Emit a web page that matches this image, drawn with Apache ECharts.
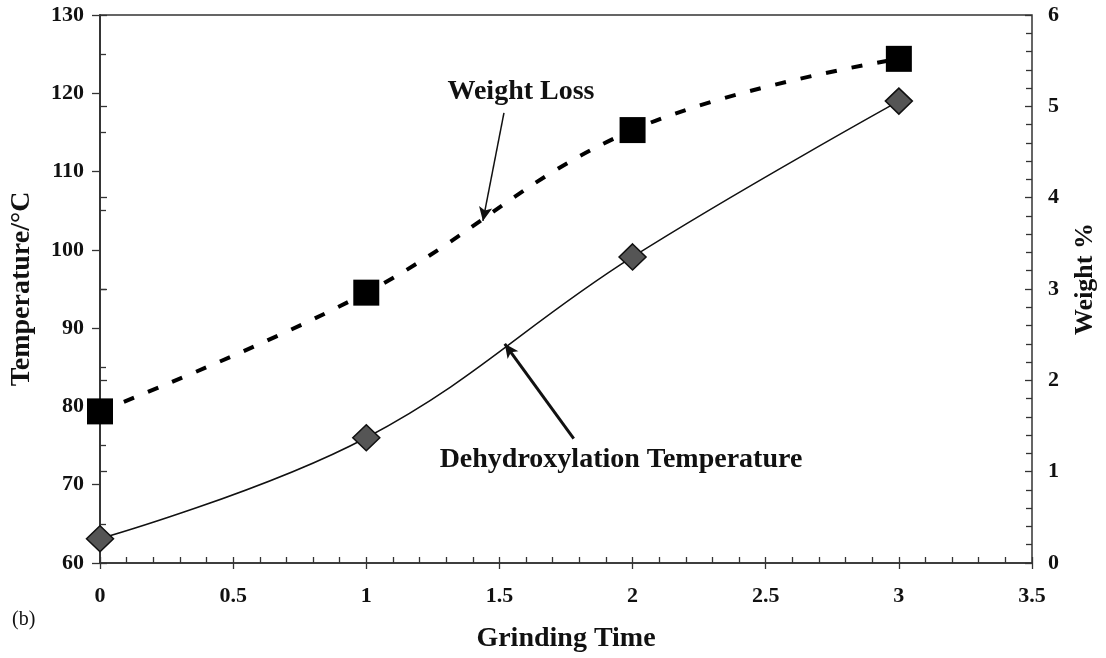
<!DOCTYPE html>
<html>
<head>
<meta charset="utf-8">
<script src="https://cdn.jsdelivr.net/npm/echarts@6/dist/echarts.min.js"></script>
<style>
  html, body { margin: 0; padding: 0; background: #fff; }
  #chart { width: 1106px; height: 658px; }
</style>
</head>
<body>
<div id="chart"></div>
<script>
// grinding time (x)
const grindTime = [0, 1, 2, 3];
const dehydroxTemp = [63.1, 76.0, 99.1, 119.0];   // left axis, °C
const weightLoss = [1.66, 2.96, 4.74, 5.52];      // right axis, weight %

// annotation arrows in data units (x, temperature)
const weightArrow = [[1.517, 117.5], [1.438, 103.7]];
const tempArrow = [[1.779, 75.9], [1.52, 88.0]];

const font = 'Liberation Serif';
const axisColor = '#333';

const mychart = echarts.init(document.getElementById('chart'));

const labelStyle = { fontFamily: font, fontWeight: 'bold', fontSize: 22, color: '#111' };
function nameStyle(size) {
    return { fontFamily: font, fontWeight: 'bold', fontSize: size, color: '#111' };
}

// the extra axes only draw the inward minor/major ticks
function innerX() {
    return {
        type: 'value', min: 0, max: 3.5, interval: 0.5, position: 'bottom',
        axisLine: { show: false }, axisLabel: { show: false }, splitLine: { show: false },
        axisTick: { show: true, inside: true, length: 6, lineStyle: { color: axisColor, width: 1.3 } },
        minorTick: { show: true, splitNumber: 5, length: 6, lineStyle: { color: axisColor, width: 1.3 } }
    };
}
function innerY(pos, min, max, interval, split) {
    return {
        type: 'value', min: min, max: max, interval: interval, position: pos,
        axisLine: { show: false }, axisLabel: { show: false }, splitLine: { show: false },
        axisTick: { show: pos === 'right', inside: true, length: 7, lineStyle: { color: axisColor, width: 1.3 } },
        minorTick: { show: true, splitNumber: split, length: 6, lineStyle: { color: axisColor, width: 1.3 } }
    };
}

const option = {
    animation: false,
    grid: {
        left: 98, right: 74, top: 15, bottom: 93,
        show: true, borderColor: axisColor, borderWidth: 1.5, backgroundColor: 'transparent'
    },
    xAxis: [{
        type: 'value', min: 0, max: 3.5, interval: 0.5,
        name: 'Grinding Time', nameLocation: 'middle', nameGap: 62, nameTextStyle: nameStyle(28),
        axisLine: { show: true, lineStyle: { color: axisColor, width: 1.5 } },
        axisTick: { show: true, length: 6, lineStyle: { color: axisColor, width: 1.3 } },
        axisLabel: Object.assign({ margin: 22 }, labelStyle),
        splitLine: { show: false }
    }, innerX()],
    yAxis: [{
        type: 'value', min: 60, max: 130, interval: 10, position: 'left',
        name: 'Temperature/°C', nameLocation: 'middle', nameGap: 64, nameRotate: 90, nameTextStyle: nameStyle(28),
        axisLine: { show: true, lineStyle: { color: axisColor, width: 1.5 } },
        axisTick: { show: true, length: 8, lineStyle: { color: axisColor, width: 1.3 } },
        axisLabel: Object.assign({ margin: 16 }, labelStyle),
        splitLine: { show: false }
    }, {
        type: 'value', min: 0, max: 6, interval: 1, position: 'right',
        name: 'Weight %', nameLocation: 'middle', nameGap: 40, nameRotate: 90,
        nameTextStyle: Object.assign({ padding: [0, 0, 0, 20] }, nameStyle(26)),
        axisLine: { show: true, lineStyle: { color: axisColor, width: 1.5 } },
        axisTick: { show: true, length: 7, lineStyle: { color: axisColor, width: 1.3 } },
        axisLabel: Object.assign({ margin: 16 }, labelStyle),
        splitLine: { show: false }
    }, innerY('left', 60, 130, 10, 2), innerY('right', 0, 6, 1, 5)],
    series: [{
        name: 'Dehydroxylation Temperature',
        type: 'line',
        xAxisIndex: 0, yAxisIndex: 0,
        smooth: 0.4,
        data: grindTime.map((t, i) => [t, dehydroxTemp[i]]),
        symbol: 'diamond',
        symbolSize: [27, 26],
        itemStyle: { color: '#555', borderColor: '#111', borderWidth: 1.5 },
        lineStyle: { color: '#111', width: 1.5 },
        z: 3,
        markLine: {
            silent: true,
            symbol: ['none', 'arrow'],
            symbolSize: [10, 14],
            label: { show: false },
            emphasis: { disabled: true },
            data: [
                [{ coord: weightArrow[0], lineStyle: { color: '#111', width: 1.5, type: 'solid' } },
                 { coord: weightArrow[1] }],
                [{ coord: tempArrow[0], lineStyle: { color: '#111', width: 3, type: 'solid' } },
                 { coord: tempArrow[1] }]
            ]
        }
    }, {
        name: 'Weight Loss',
        type: 'line',
        xAxisIndex: 0, yAxisIndex: 1,
        smooth: 0.4,
        data: grindTime.map((t, i) => [t, weightLoss[i]]),
        symbol: 'rect',
        symbolSize: 26,
        itemStyle: { color: '#000' },
        lineStyle: { color: '#000', width: 4, type: [11, 15], cap: 'butt' },
        z: 4
    }],
    graphic: [{
        type: 'text',
        style: { text: 'Weight Loss', x: 521, y: 92, align: 'center', verticalAlign: 'middle',
                 font: 'bold 28px "Liberation Serif"', fill: '#111' }
    }, {
        type: 'text',
        style: { text: 'Dehydroxylation Temperature', x: 621, y: 460, align: 'center', verticalAlign: 'middle',
                 font: 'bold 28px "Liberation Serif"', fill: '#111' }
    }, {
        type: 'text',
        style: { text: '(b)', x: 12, y: 620, verticalAlign: 'middle',
                 font: '20px "Liberation Serif"', fill: '#111' }
    }]
};
mychart.setOption(option);
</script>
</body>
</html>
